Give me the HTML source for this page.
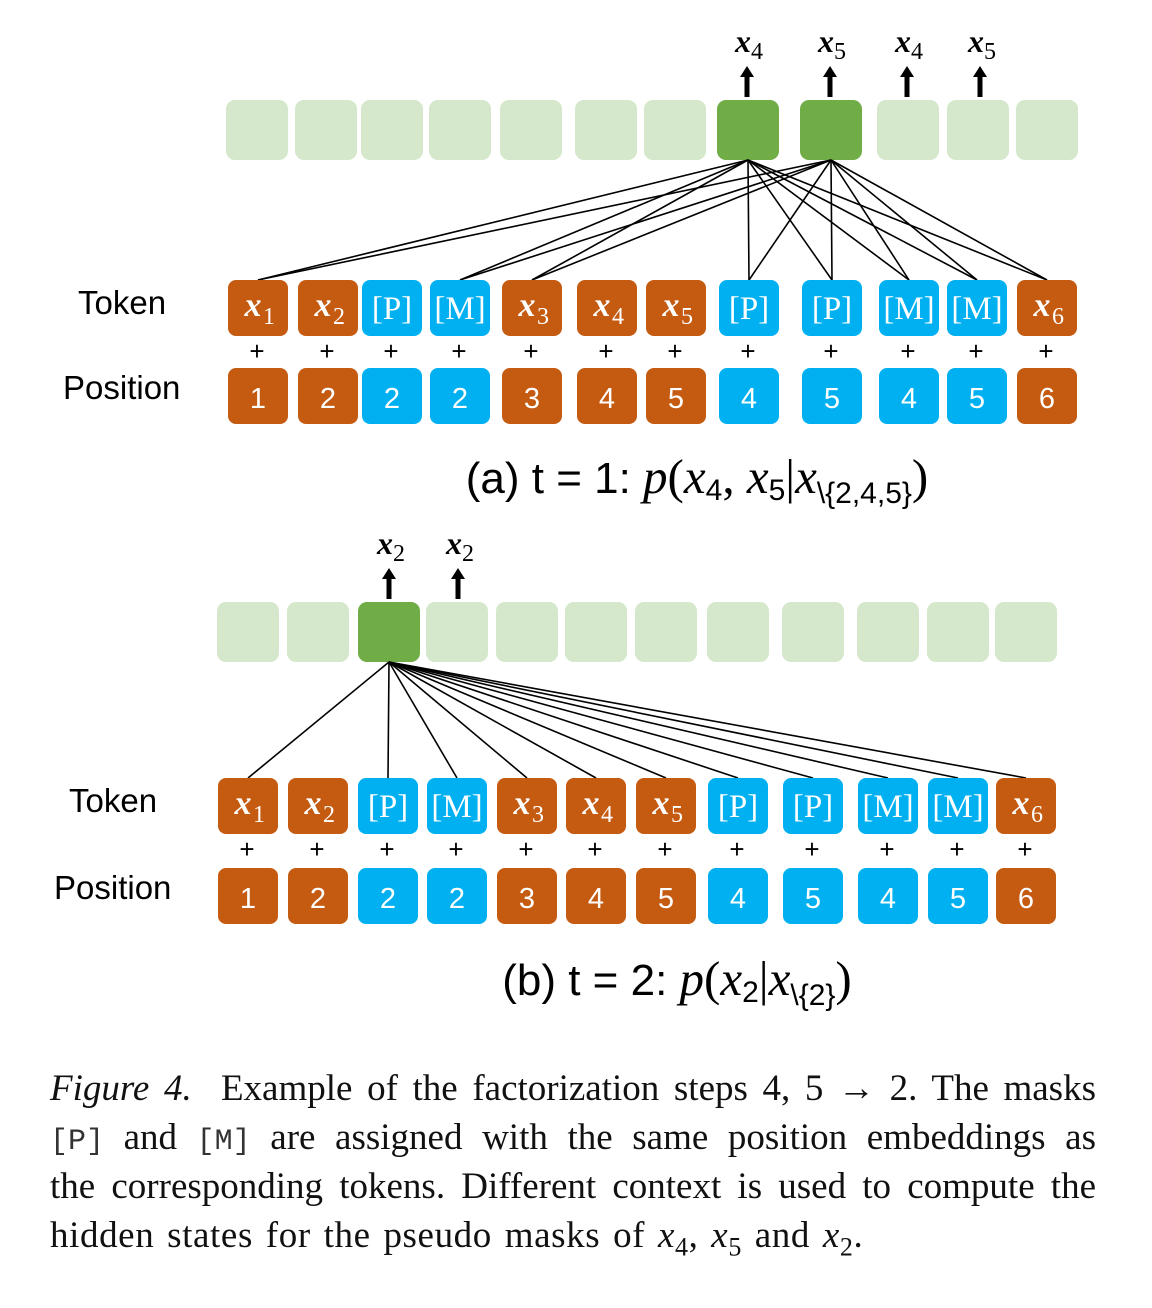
<!DOCTYPE html>
<html><head><meta charset="utf-8">
<style>
html,body{margin:0;padding:0;background:#fff;width:1152px;height:1308px;overflow:hidden}
svg{position:absolute;left:0;top:0}
.cap{position:absolute;left:50px;top:1064px;width:1046px;font-family:"Liberation Serif",serif;font-size:37px;line-height:49px;color:#111}
.cap div{text-align:justify;text-align-last:justify;white-space:nowrap;height:49px}
.cap div.last{text-align-last:left;word-spacing:3px;letter-spacing:0.6px}
.mono{font-family:"Liberation Mono",monospace;font-size:30px;color:#333}
</style></head>
<body>
<svg id="fig" width="1152" height="1060"></svg>
<div class="cap">
<div><i>Figure 4.</i>&nbsp; Example of the factorization steps 4, 5 → 2. The masks</div>
<div><span class="mono">[P]</span> and <span class="mono">[M]</span> are assigned with the same position embeddings as</div>
<div>the corresponding tokens. Different context is used to compute the</div>
<div class="last">hidden states for the pseudo masks of <i>x</i><sub style="font-size:26px">4</sub>, <i>x</i><sub style="font-size:26px">5</sub> and <i>x</i><sub style="font-size:26px">2</sub>.</div>
</div>
<script>
const tokens=["x1","x2","[P]","[M]","x3","x4","x5","[P]","[P]","[M]","[M]","x6"];
const positions=["1","2","2","2","3","4","5","4","5","4","5","6"];
const isMask=[0,0,1,1,0,0,0,1,1,1,1,0];
// panel a
const aHidden=[226,295,361,429,500,575,644,717,800,877,947,1016];
const aTok=[228,298,362,430,502,577,646,719,802,879,947,1017];
const aGreen=[7,8];
const aArrows=[[747,"4"],[830,"5"],[907,"4"],[980,"5"]];
const aLinks=[0,3,4,7,8,9,10,11];
// panel b
const bHidden=[217,287,358,426,496,565,635,707,782,857,927,995];
const bTok=[218,288,358,427,497,566,636,708,783,858,928,996];
const bGreen=[2];
const bArrows=[[389,"2"],[458,"2"]];
const bLinks=[0,2,3,4,5,6,7,8,9,10,11];
const NS="http://www.w3.org/2000/svg";
const svg=document.getElementById('fig');
function mk(tag,attrs,parent){const e=document.createElementNS(NS,tag);for(const k in attrs)e.setAttribute(k,attrs[k]);(parent||svg).appendChild(e);return e;}
function txt(x,y,s,size,fill,family,style,anchor){const t=mk('text',{x:x,y:y,'font-size':size,fill:fill,'font-family':family,'font-style':style||'normal','text-anchor':anchor||'middle'});t.textContent=s;return t;}
function drawPanel(hid,tok,green,arrows,links,hy,ty,py,labelX,cap,capX,capY){
  const g=mk('g',{});
  hid.forEach((x,i)=>{const r=mk('rect',{x:x,y:hy,width:62,height:60,rx:9,fill:green.includes(i)?'#70ad47':'#d5e8cb'},g);
    
    });
  green.forEach(gi=>{const cx=hid[gi]+31;links.forEach(j=>{const l=mk('line',{x1:cx,y1:hy+60,x2:tok[j]+30,y2:ty,stroke:'#000','stroke-width':1.6},g);
    
    });});
  arrows.forEach(([x,s])=>{const a=mk('g',{},g);
    
    
    mk('rect',{x:x-2.5,y:hy-25,width:5,height:22,fill:'#000'},a);
    mk('polygon',{points:`${x-7},${hy-23} ${x+7},${hy-23} ${x},${hy-34}`,fill:'#000'},a);
    const t=txt(x-4,hy-48,'x','32px','#000','Liberation Serif','italic');t.setAttribute('font-weight','bold');a.appendChild(t);
    const s2=txt(x+10,hy-41,s,'24px','#000','Liberation Serif');a.appendChild(s2);});
  tok.forEach((x,i)=>{const c=isMask[i]?'#00b0f0':'#c55a11';
    const b=mk('g',{},g);
    
    
    mk('rect',{x:x,y:ty,width:60,height:56,rx:8,fill:c},b);
    if(isMask[i]){b.appendChild(txt(x+30,ty+39,tokens[i],'33px','#fff','Liberation Serif'));}
    else{const t=txt(x+25,ty+36,'x','34px','#fff','Liberation Serif','italic');t.setAttribute('font-weight','bold');b.appendChild(t);
      b.appendChild(txt(x+41,ty+44,tokens[i][1],'24px','#fff','Liberation Serif'));}
    g.appendChild(txt(x+29,ty+80,'+','26px','#000','Liberation Sans'));
    const p=mk('g',{},g);
    
    
    mk('rect',{x:x,y:py,width:60,height:56,rx:8,fill:c},p);
    p.appendChild(txt(x+30,py+40,positions[i],'29px','#fff','Liberation Sans'));});
  const tl=txt(labelX+15,ty+34,'Token','33px','#000','Liberation Sans','normal','start');
  
  const pl=txt(labelX,py+31,'Position','33px','#000','Liberation Sans','normal','start');
  
  const c=mk('text',{x:capX,y:capY,'font-size':'44px','font-family':'Liberation Sans',fill:'#000','text-anchor':'middle'},g);
  
  c.innerHTML=cap;
}
const S='font-family="Liberation Serif" font-size="49px"';
const I='font-family="Liberation Serif" font-style="italic" font-size="49px"';
drawPanel(aHidden,aTok,aGreen,aArrows,aLinks,100,280,368,63,
 `(a) t = 1: <tspan ${I}>p</tspan><tspan ${S}>(</tspan><tspan ${I}>x</tspan><tspan font-size="30px" dy="7">4</tspan><tspan dy="-7" ${S}>, </tspan><tspan ${I}>x</tspan><tspan font-size="30px" dy="7">5</tspan><tspan dy="-7" ${S}>|</tspan><tspan ${I}>x</tspan><tspan font-size="30px" dy="10">\\{2,4,5}</tspan><tspan dy="-10" ${S}>)</tspan>`,697,493);
drawPanel(bHidden,bTok,bGreen,bArrows,bLinks,602,778,868,54,
 `(b) t = 2: <tspan ${I}>p</tspan><tspan ${S}>(</tspan><tspan ${I}>x</tspan><tspan font-size="30px" dy="7">2</tspan><tspan dy="-7" ${S}>|</tspan><tspan ${I}>x</tspan><tspan font-size="30px" dy="10">\\{2}</tspan><tspan dy="-10" ${S}>)</tspan>`,677,995);
</script>
</body></html>
